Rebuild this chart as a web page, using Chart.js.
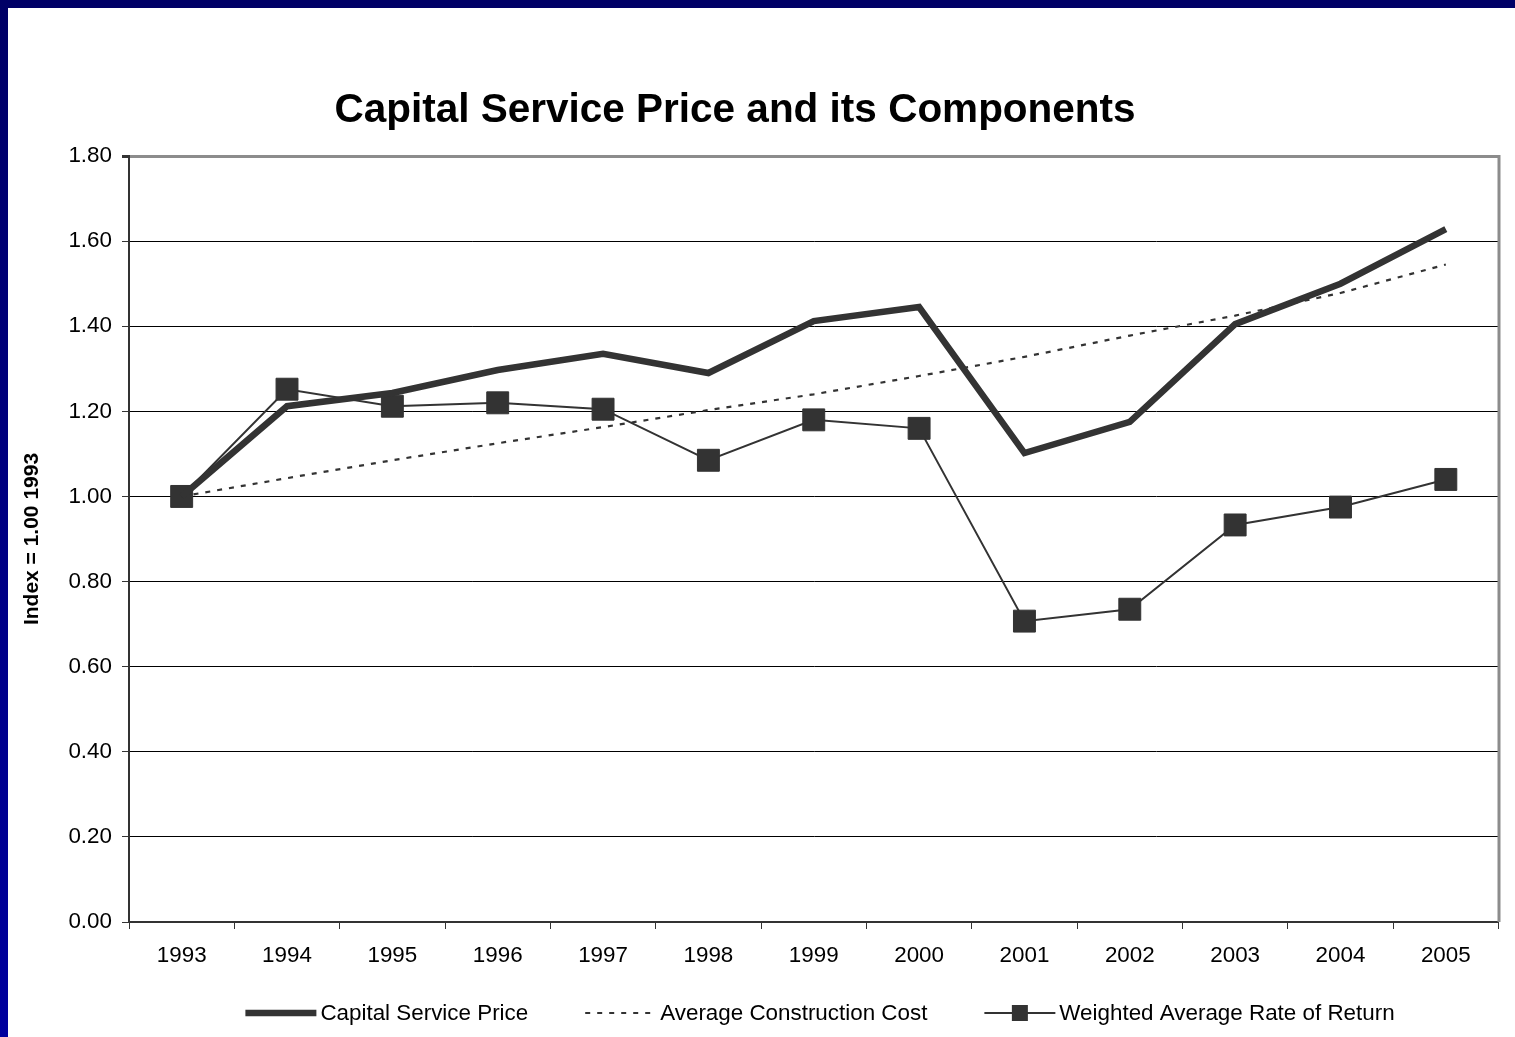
<!DOCTYPE html>
<html>
<head>
<meta charset="utf-8">
<script src="https://cdn.jsdelivr.net/npm/chart.js@4/dist/chart.umd.min.js"></script>
<style>
  html, body { margin: 0; padding: 0; }
  #frame {
    position: relative;
    width: 1515px;
    height: 1037px;
    background: linear-gradient(to bottom, #000066, #00009e);
    overflow: hidden;
  }
  #chart {
    position: absolute;
    left: 8px;
    top: 8px;
    background: #ffffff;
  }
</style>
</head>
<body>
<div id="frame">
  <canvas id="chart" width="1507" height="1029"></canvas>
</div>
<script>
const FONT = "'Liberation Sans', Arial, Helvetica, sans-serif";
const INK = "#333333";

const years = ["1993", "1994", "1995", "1996", "1997", "1998", "1999",
  "2000", "2001", "2002", "2003", "2004", "2005"];

const capitalServicePrice = [1.00, 1.212, 1.243, 1.297, 1.335, 1.290, 1.412,
  1.445, 1.102, 1.175, 1.405, 1.500, 1.628];

const avgConstructionCost = [1.00, 1.043, 1.085, 1.125, 1.163, 1.203, 1.240,
  1.283, 1.328, 1.378, 1.425, 1.478, 1.545];

const weightedRateOfReturn = [1.00, 1.252, 1.212, 1.220, 1.205, 1.085, 1.180,
  1.160, 0.707, 0.735, 0.933, 0.975, 1.040];

const chartTitle = "Capital Service Price and its Components";
const yAxisTitle = "Index = 1.00 1993";

// title, rotated y label, right frame edge and the bottom legend
const decorations = {
  id: "decorations",
  beforeDatasetsDraw(chart) {
    const { ctx, chartArea } = chart;
    ctx.save();
    ctx.strokeStyle = "#8c8c8c";
    ctx.lineWidth = 3;
    ctx.beginPath();
    ctx.moveTo(chartArea.right + 0.5, chartArea.top - 1);
    ctx.lineTo(chartArea.right + 0.5, chartArea.bottom);
    ctx.stroke();
    ctx.restore();
  },
  afterDraw(chart) {
    const { ctx, chartArea } = chart;
    ctx.save();

    ctx.fillStyle = "#000000";
    ctx.font = "bold 40.5px " + FONT;
    ctx.textAlign = "center";
    ctx.textBaseline = "middle";
    ctx.fillText(chartTitle, 727, 103);

    ctx.save();
    ctx.translate(24, (chartArea.top + chartArea.bottom) / 2);
    ctx.rotate(-Math.PI / 2);
    ctx.font = "bold 21px " + FONT;
    ctx.fillText(yAxisTitle, 0, 0);
    ctx.restore();

    // legend
    ctx.font = "22.4px " + FONT;
    ctx.textAlign = "left";
    const sampleW = 71, textGap = 4, itemGap = 57;
    const items = chart.data.datasets.map(ds => ({
      ds, w: sampleW + textGap + ctx.measureText(ds.label).width,
    }));
    const total = items.reduce((s, it) => s + it.w, 0) + itemGap * (items.length - 1);
    let x = 812 - total / 2;
    const y = 1005;
    items.forEach(({ ds, w }) => {
      ctx.save();
      ctx.strokeStyle = ds.borderColor;
      ctx.lineWidth = ds.borderWidth;
      ctx.setLineDash(ds.borderDash || []);
      ctx.beginPath();
      ctx.moveTo(x, y);
      ctx.lineTo(x + sampleW, y);
      ctx.stroke();
      if (ds.pointRadius > 0) {
        ctx.fillStyle = ds.pointBackgroundColor;
        ctx.fillRect(x + sampleW / 2 - 8, y - 8, 16, 16);
      }
      ctx.restore();
      ctx.fillStyle = "#000000";
      ctx.fillText(ds.label, x + sampleW + textGap, y + 1);
      x += w + itemGap;
    });

    ctx.restore();
  },
};

const ctx = document.getElementById("chart").getContext("2d");

new Chart(ctx, {
  type: "line",
  data: {
    labels: years,
    datasets: [
      {
        label: "Capital Service Price",
        data: capitalServicePrice,
        borderColor: INK,
        borderWidth: 6.5,
        pointRadius: 0,
        borderJoinStyle: "miter",
        order: 1,
      },
      {
        label: "Average Construction Cost",
        data: avgConstructionCost,
        borderColor: INK,
        borderWidth: 2.2,
        borderDash: [5, 7],
        pointRadius: 0,
        order: 2,
      },
      {
        label: "Weighted Average Rate of Return",
        data: weightedRateOfReturn,
        borderColor: INK,
        borderWidth: 2,
        pointStyle: "rect",
        pointRadius: 15.5,
        pointBackgroundColor: INK,
        pointBorderColor: INK,
        pointBorderWidth: 1,
        order: 3,
      },
    ],
  },
  options: {
    responsive: false,
    animation: false,
    events: [],
    layout: { padding: { left: 0, top: 148, right: 13, bottom: 0 } },
    plugins: {
      legend: { display: false },
      title: { display: false },
      tooltip: { enabled: false },
    },
    elements: { line: { tension: 0 } },
    scales: {
      x: {
        offset: true,
        afterFit: scale => { scale.height = 115; },
        grid: {
          offset: true,
          drawOnChartArea: false,
          drawTicks: true,
          tickLength: 7,
          color: INK,
          lineWidth: 1,
        },
        border: { color: INK, width: 2 },
        ticks: {
          color: "#000000",
          font: { family: FONT, size: 22.4 },
          padding: 13,
          maxRotation: 0,
        },
      },
      y: {
        min: 0,
        max: 1.8,
        afterFit: scale => { scale.width = 121; },
        ticks: {
          stepSize: 0.2,
          color: "#000000",
          font: { family: FONT, size: 22.4 },
          padding: 10,
          callback: v => Number(v).toFixed(2),
        },
        grid: {
          color: c => (c.tick && Math.abs(c.tick.value - 1.8) < 1e-6) ? "#8c8c8c" : "#000000",
          lineWidth: c => (c.tick && Math.abs(c.tick.value - 1.8) < 1e-6) ? 3 : 1,
          tickLength: 7,
          tickColor: INK,
        },
        border: { color: INK, width: 2 },
      },
    },
  },
  plugins: [decorations],
});
</script>
</body>
</html>
